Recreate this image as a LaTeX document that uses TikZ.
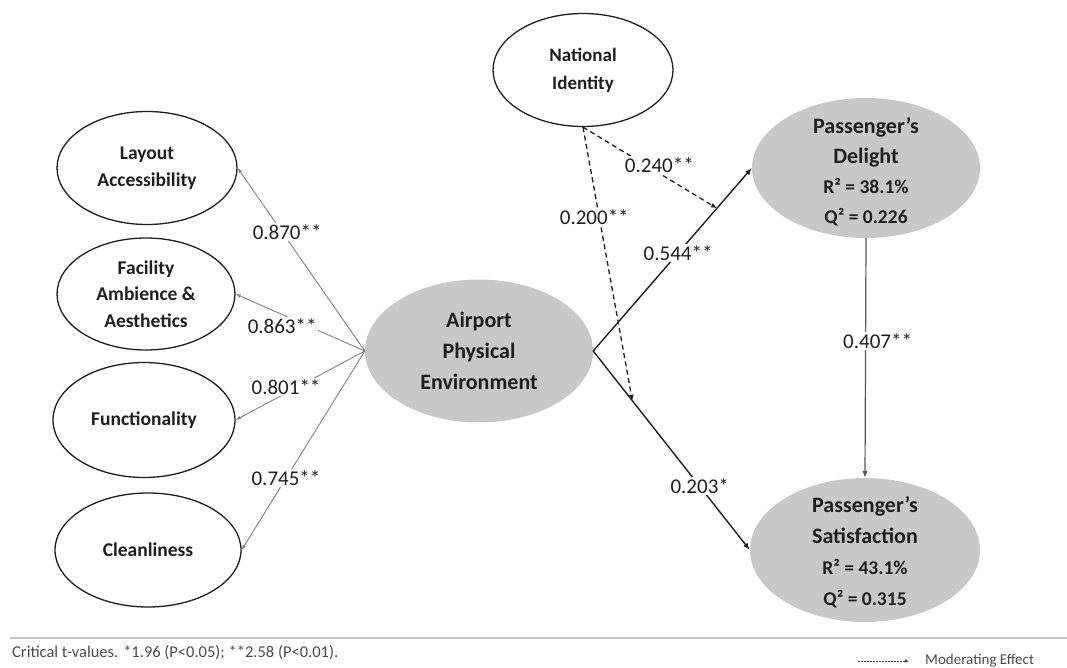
\documentclass[tikz,border=0pt]{standalone}
\usepackage{fontspec}
\setmainfont{Carlito}
\usetikzlibrary{shapes.geometric,arrows.meta}
\definecolor{lvfill}{HTML}{C8C8C8}
\definecolor{ink}{HTML}{1E1E1E}
\definecolor{thinline}{HTML}{808080}
\definecolor{rulegray}{HTML}{C4C4C4}
\definecolor{notegray}{HTML}{4A4A4A}
\newcommand{\statline}{\fontsize{19.5}{27}\selectfont}
\begin{document}
\begin{tikzpicture}[x=1pt,y=-1pt,
  construct/.style={ellipse, draw=ink, line width=1.3pt, fill=white, inner sep=0pt},
  latent/.style={ellipse, fill=lvfill, inner sep=0pt},
  vname/.style={text=ink, align=center, font=\bfseries\fontsize{19.5}{26.5}\selectfont},
  coef/.style={fill=white, inner sep=1.5pt, text=ink, font=\fontsize{21}{24}\selectfont},
  loading/.style={draw=thinline, line width=0.9pt, -{Latex[length=5pt,width=4pt]}},
  structpath/.style={draw=ink, line width=1.4pt, -{Latex[length=7pt,width=5.5pt]}},
  moder/.style={draw=ink, line width=1.3pt, dash pattern=on 5pt off 3.5pt, -{Latex[length=6pt,width=5pt]}},
]
\useasboundingbox (0,0) rectangle (1067,668);

% first-order dimensions
\node[construct, minimum width=180pt, minimum height=113pt,
  label={[vname]center:{Layout\\Accessibility}}] (la) at (147,168) {};
\node[construct, minimum width=178pt, minimum height=112pt,
  label={[vname]center:{Facility\\Ambience \&\\Aesthetics}}] (fa) at (146,294) {};
\node[construct, minimum width=182pt, minimum height=115pt,
  label={[vname]center:{Functionality}}] (fn) at (144,420) {};
\node[construct, minimum width=186pt, minimum height=114pt,
  label={[vname]center:{Cleanliness}}] (cl) at (148,550) {};

% moderator
\node[construct, minimum width=180pt, minimum height=113pt,
  label={[vname, font=\bfseries\fontsize{19}{28}\selectfont]center:{National\\Identity}}] (ni) at (583,70) {};

% latent constructs
\node[latent, minimum width=228pt, minimum height=143pt,
  label={[vname, font=\bfseries\fontsize{22}{31}\selectfont]center:{Airport\\Physical\\Environment}}] (ape) at (479,351) {};
\node[latent, minimum width=228pt, minimum height=140pt,
  label={[vname, font=\bfseries\fontsize{22}{30}\selectfont, yshift=-4pt]center:{Passenger’s\\Delight\\\statline R² = 38.1\%\\\statline Q² = 0.226}}] (dl) at (866,168) {};
\node[latent, minimum width=230pt, minimum height=144pt,
  label={[vname, font=\bfseries\fontsize{22}{31}\selectfont, yshift=-2pt]center:{Passenger’s\\Satisfaction\\\statline R² = 43.1\%\\\statline Q² = 0.315}}] (st) at (865,550) {};

% outer loadings
\draw[loading] (ape.west) -- node[coef, pos=.65, xshift=5pt] {0.870**} (la.east);
\draw[loading] (ape.west) -- node[coef, pos=.64, yshift=-12pt] {0.863**} (fa.east);
\draw[loading] (ape.west) -- node[coef, pos=.61, yshift=6pt] {0.801**} (fn.east);
\draw[loading] (ape.west) -- node[coef, pos=.64] {0.745**} (cl.east);

% structural paths
\draw[structpath] (ape.east) -- coordinate[pos=.78] (m1) node[coef, pos=.535] {0.544**} (dl.west);
\draw[structpath] (ape.east) -- coordinate[pos=.25] (m2) node[coef, pos=.68] {0.203*} (st.west);
\draw[structpath, draw=ink!75, line width=1.2pt] (dl.south) -- node[coef, pos=.43, xshift=12pt] {0.407**} (st.north);

% moderating effects
\draw[moder] (ni.south) -- node[coef, pos=.57, yshift=8pt] {0.240**} (m1);
\draw[moder] (ni.south) -- node[coef, pos=.33, xshift=-5pt] {0.200**} (m2);

% footer
\coordinate (ruleL) at (10,638);
\coordinate (ruleR) at (1067,638);
\draw[rulegray, line width=2pt] (ruleL) -- (ruleR);
\node[anchor=west, text=notegray, inner sep=0pt, font=\fontsize{16.5}{18}\selectfont] (note) at (12,653)
  {Critical t-values. *1.96 (P<0.05); **2.58 (P<0.01).};
\node[anchor=west, text=notegray, inner sep=0pt, font=\fontsize{15}{17}\selectfont] (legtext) at (925,661) {Moderating Effect};
\coordinate (legstart) at (858,661);
\draw[notegray, line width=1pt, dash pattern=on 1.5pt off 1.5pt, -{Latex[length=4pt,width=4pt]}] (legstart) -- ([xshift=-16pt]legtext.west);
\end{tikzpicture}
\end{document}
